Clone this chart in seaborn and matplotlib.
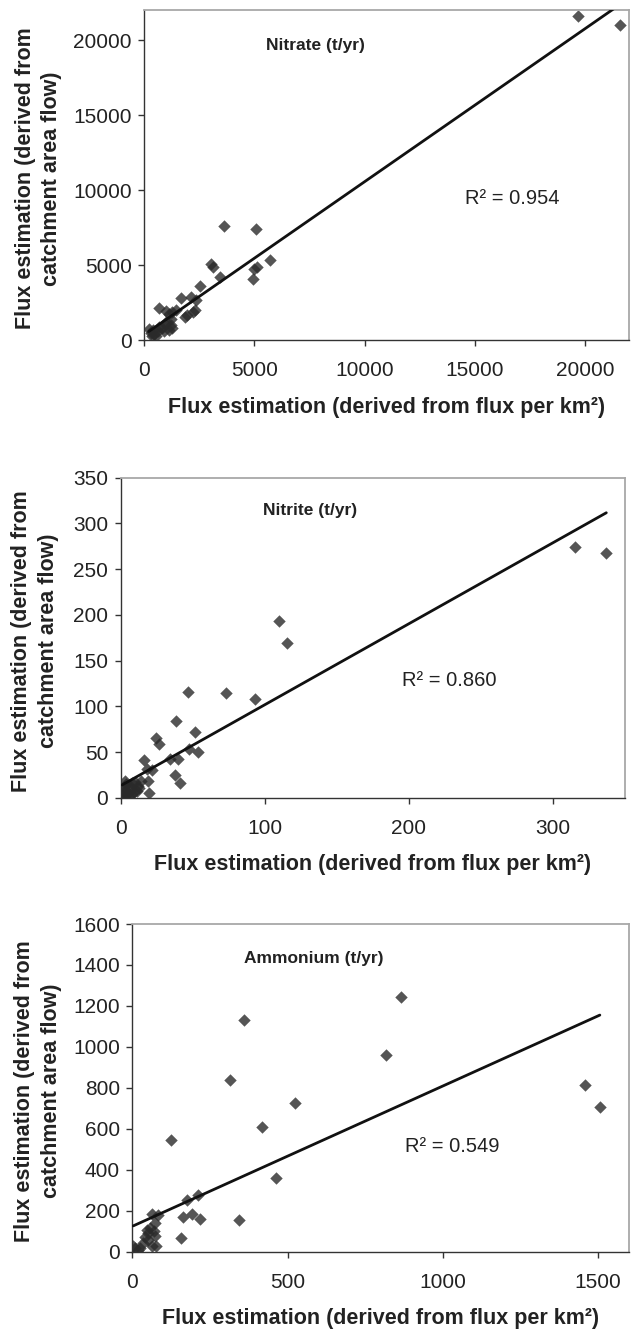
import numpy as np
import matplotlib
matplotlib.use('Agg')
import matplotlib.pyplot as plt
import seaborn as sns

# Nitrate (t/yr)
nitrate_x = [19700, 21600, 3600, 5050, 5700, 3050, 3100, 5100, 5000, 4950, 3450, 2550,
             1650, 2100, 2350, 2300, 2200, 1950, 1850, 650, 1000, 1450, 1100, 1250,
             950, 1200, 1250, 1100, 800, 650, 400, 200, 300, 450, 550, 350, 600, 900,
             1000, 1200]
nitrate_y = [21600, 21000, 7600, 7400, 5350, 5100, 4850, 4850, 4750, 4050, 4200, 3600,
             2780, 2900, 2650, 2000, 1850, 1650, 1550, 2150, 1950, 2000, 1750, 1850,
             1100, 1000, 800, 700, 800, 900, 650, 750, 500, 400, 300, 300, 600, 600,
             1200, 1400]

# Nitrite (t/yr)
nitrite_x = [315, 337, 110, 115.5, 47, 73, 93.5, 38.5, 51.5, 24.5, 26.5, 47.5, 53.5, 16,
             34, 40, 18.5, 21.5, 37.5, 41, 19, 19.5,
             2, 4, 6, 8, 10, 12, 3, 5, 7, 9, 1, 2, 4, 6, 8, 11, 13, 14, 3, 1]
nitrite_y = [274, 268, 193, 169, 116, 114.5, 108, 84, 72.5, 65.5, 58.5, 53.5, 50, 41.5,
             43, 43, 31.5, 31, 25, 16, 18.5, 5.5,
             12, 15, 14, 16, 17, 13, 8, 5, 9, 6, 3, 1, 3, 2, 4, 8, 11, 18, 18, 8]

# Ammonium (t/yr)
ammonium_x = [866, 361, 816, 315, 1457, 525, 1506, 417, 125, 462, 213, 177, 193, 162,
              218, 345, 157, 65, 82, 73, 46, 57, 73, 52, 62, 78, 36, 3, 19, 9, 41, 25,
              50, 70]
ammonium_y = [1243, 1129, 959, 837, 815, 724, 708, 607, 545, 362, 277, 253, 183, 168,
              160, 155, 69, 185, 180, 138, 106, 114, 75, 58, 29, 29, 40, 29, 8, 16, 73, 20,
              90, 100]

panels = [
    dict(x=nitrate_x, y=nitrate_y, title='Nitrate (t/yr)', r2='R² = 0.954',
         xlim=(0, 22000), ylim=(0, 22000), xticks=np.arange(0, 20001, 5000),
         yticks=np.arange(0, 20001, 5000), title_xy=(7750, 19650), r2_xy=(16700, 9470),
         rect=[0.2283, 0.7449, 0.767, 0.2473], ylab_x=-0.218),
    dict(x=nitrite_x, y=nitrite_y, title='Nitrite (t/yr)', r2='R² = 0.860',
         xlim=(0, 350), ylim=(0, 350), xticks=[0, 100, 200, 300],
         yticks=np.arange(0, 351, 50), title_xy=(131.6, 314), r2_xy=(227.8, 128.6),
         rect=[0.191, 0.4014, 0.798, 0.2403], ylab_x=-0.17),
    dict(x=ammonium_x, y=ammonium_y, title='Ammonium (t/yr)', r2='R² = 0.549',
         xlim=(0, 1600), ylim=(0, 1600), xticks=[0, 500, 1000, 1500],
         yticks=np.arange(0, 1601, 200), title_xy=(583, 1434), r2_xy=(1032, 512),
         rect=[0.2093, 0.061, 0.786, 0.2458], ylab_x=-0.19),
]

sns.set_style('ticks')
plt.rcParams['font.family'] = ['Liberation Sans', 'DejaVu Sans']

fig = plt.figure(figsize=(6.32, 13.33), dpi=100)

for p in panels:
    ax = fig.add_axes(p['rect'])
    sns.regplot(x=np.array(p['x'], dtype=float), y=np.array(p['y'], dtype=float), ax=ax,
                ci=None, marker='D',
                scatter_kws=dict(s=40, color='#2a2a2a', linewidths=0, zorder=2),
                line_kws=dict(color='#111111', lw=2.0, zorder=3))
    ax.set_xlim(p['xlim'])
    ax.set_ylim(p['ylim'])
    ax.set_xticks(p['xticks'])
    ax.set_yticks(p['yticks'])
    ax.tick_params(axis='both', labelsize=15, length=4, width=1, color='#333333',
                   labelcolor='#222222')
    ax.tick_params(axis='x', pad=11)
    ax.tick_params(axis='y', pad=5)
    for side in ['left', 'bottom']:
        ax.spines[side].set_color('#333333')
        ax.spines[side].set_linewidth(1.0)
    for side in ['top', 'right']:
        ax.spines[side].set_visible(True)
        ax.spines[side].set_color('#a8a8a8')
        ax.spines[side].set_linewidth(1.3)
    ax.set_xlabel('Flux estimation (derived from flux per km²)', fontsize=15.5,
                  fontweight='bold', color='#222222', labelpad=12)
    ax.set_ylabel('Flux estimation (derived from\ncatchment area flow)', fontsize=15.5,
                  fontweight='bold', color='#222222', va='center', linespacing=1.35)
    ax.yaxis.set_label_coords(p['ylab_x'], 0.49)
    ax.text(*p['title_xy'], p['title'], fontsize=12.5, fontweight='bold',
            color='#222222', ha='center', va='center')
    ax.text(*p['r2_xy'], p['r2'], fontsize=14.5, color='#222222',
            ha='center', va='center')

fig.savefig('out.png', dpi=100)
